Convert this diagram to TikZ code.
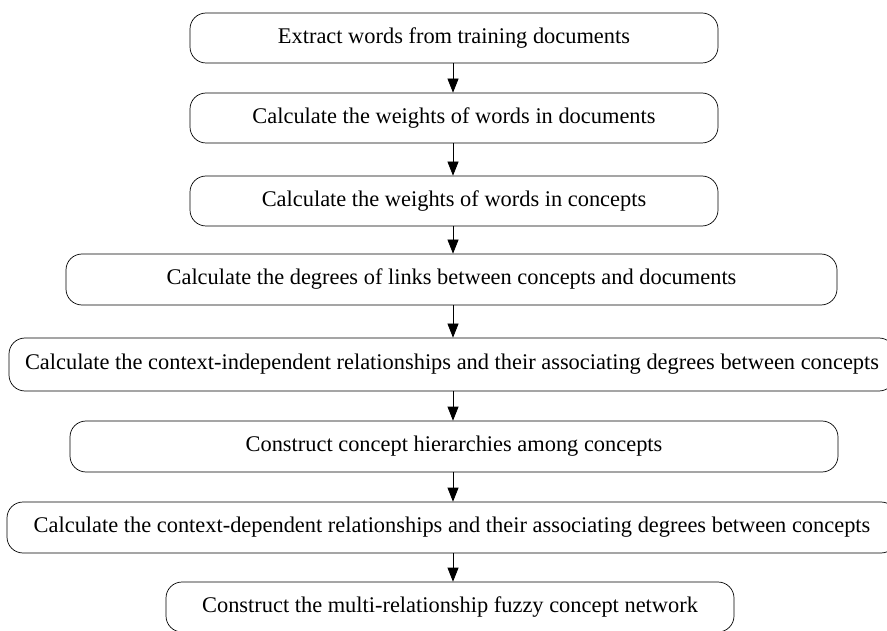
\documentclass[tikz,border=0pt]{standalone}
\usepackage{fontspec}
\setmainfont{Liberation Serif}
\usetikzlibrary{arrows.meta}

\tikzset{
  stepbox/.style={draw, rounded corners=16pt, line width=0.7pt, inner sep=0pt,
    font=\fontsize{22.4}{26}\selectfont},
  flowarrow/.style={-{Triangle[width=11pt,length=14pt]}, line width=0.7pt}
}

\begin{document}
\begin{tikzpicture}[x=1pt, y=-1pt]
\useasboundingbox (0,0) rectangle (887,631);

% the axis that all arrows follow
\coordinate (axis) at (453,0);

% Draw the steps, top to bottom
\node[stepbox, minimum width=528pt, minimum height=50pt] (extract) at (454,38)
  {Extract words from training documents};
\node[stepbox, minimum width=528pt, minimum height=50pt] (wdoc) at (454,118)
  {Calculate the weights of words in documents};
\node[stepbox, minimum width=528pt, minimum height=50pt] (wcon) at (454,201)
  {Calculate the weights of words in concepts};
\node[stepbox, minimum width=771pt, minimum height=51pt] (links) at (451.5,279.5)
  {Calculate the degrees of links between concepts and documents};
\node[stepbox, minimum width=886pt, minimum height=53pt] (indep) at (452,364.5)
  {Calculate the context-independent relationships and their associating degrees between concepts};
\node[stepbox, minimum width=768pt, minimum height=51pt] (hier) at (454,446.5)
  {Construct concept hierarchies among concepts};
\node[stepbox, minimum width=890pt, minimum height=51pt] (dep) at (452,527.5)
  {Calculate the context-dependent relationships and their associating degrees between concepts};
\node[stepbox, minimum width=568pt, minimum height=50pt] (net) at (450,607)
  {Construct the multi-relationship fuzzy concept network};

% Draw the arrows between steps
\foreach \a/\b in {extract/wdoc, wdoc/wcon, wcon/links, links/indep,
                   indep/hier, hier/dep, dep/net} {
  \draw[flowarrow] (\a.south -| axis) -- (\b.north -| axis);
}

\end{tikzpicture}
\end{document}
